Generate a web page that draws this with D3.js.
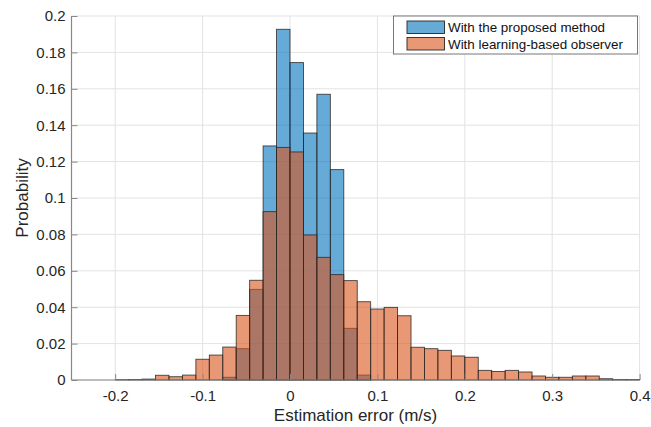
<!DOCTYPE html>
<html><head><meta charset="utf-8">
<script src="https://cdn.jsdelivr.net/npm/d3@7"></script>
<style>body{margin:0;background:#fff}svg{display:block}text{font-family:"Liberation Sans",Arial,Helvetica,sans-serif}</style>
</head><body><svg id="c" width="651" height="427"></svg>
<script>
// Histogram bins: edges at binStart + i*binWidth
const binStart = -0.2;
const binWidth = 0.2 / 13;
const proposedStartBin = 8;
const proposedValues = [0.0015, 0.0172, 0.0498, 0.1286, 0.1927, 0.1744, 0.1357, 0.157, 0.1156, 0.0284, 0.0027];
const learningStartBin = 0;
const learningValues = [0.0002, 0.0003, 0.0005, 0.0026, 0.0018, 0.0027, 0.0114, 0.0137, 0.0181, 0.0355,
  0.0548, 0.0925, 0.1278, 0.1253, 0.0797, 0.0674, 0.0579, 0.0546, 0.043, 0.039,
  0.0399, 0.0353, 0.018, 0.0172, 0.0163, 0.0132, 0.0125, 0.0053, 0.0047, 0.0053,
  0.0044, 0.0022, 0.0015, 0.0015, 0.0022, 0.0022, 0.0007, 0.0003, 0.0003];
const xTicks = [-0.2, -0.1, 0, 0.1, 0.2, 0.3, 0.4];
const yTicks = [0, 0.02, 0.04, 0.06, 0.08, 0.1, 0.12, 0.14, 0.16, 0.18, 0.2];
const seriesNames = ["With the proposed method", "With learning-based observer"];
const seriesColors = ["#0072BD", "#D95319"];
const xLabel = "Estimation error (m/s)";
const yLabel = "Probability";

const L = 71.5, R = 639.6, T = 16, B = 380;
const svg = d3.select("#c");
const x = d3.scaleLinear().domain([-0.25, 0.4]).range([L, R]);
const y = d3.scaleLinear().domain([0, 0.2]).range([B, T]);

// grid
const g = svg.append("g");
g.selectAll("line.gx").data(xTicks).join("line")
  .attr("x1", d => x(d)).attr("x2", d => x(d)).attr("y1", T).attr("y2", B)
  .attr("stroke", "#e3e3e3").attr("stroke-width", 1);
g.selectAll("line.gy").data(yTicks).join("line")
  .attr("y1", d => y(d)).attr("y2", d => y(d)).attr("x1", L).attr("x2", R)
  .attr("stroke", "#e3e3e3").attr("stroke-width", 1);

function bins(start, vals) {
  return vals.map((v, i) => ({x0: binStart + (start + i) * binWidth, x1: binStart + (start + i + 1) * binWidth, v}));
}
const series = [bins(proposedStartBin, proposedValues), bins(learningStartBin, learningValues)];
series.forEach((data, si) => {
  svg.append("g").selectAll("rect").data(data).join("rect")
    .attr("x", d => x(d.x0)).attr("width", d => x(d.x1) - x(d.x0))
    .attr("y", d => y(d.v)).attr("height", d => y(0) - y(d.v))
    .attr("fill", seriesColors[si]).attr("fill-opacity", 0.6)
    .attr("stroke", "#262626").attr("stroke-opacity", 0.85).attr("stroke-width", 0.9);
});

// axes
const fmt = d => String(+(+d).toFixed(2));
const ax = svg.append("g").attr("transform", `translate(0,${B})`)
  .call(d3.axisBottom(x).tickValues(xTicks).tickSize(-6).tickPadding(10).tickFormat(fmt));
const ay = svg.append("g").attr("transform", `translate(${L},0)`)
  .call(d3.axisLeft(y).tickValues(yTicks).tickSize(-6).tickPadding(6).tickFormat(fmt));
[ax, ay].forEach(a => {
  a.select(".domain").attr("stroke", "#888").attr("stroke-width", 1.2);
  a.selectAll(".tick line").attr("stroke", "#888");
  a.selectAll("text").attr("fill", "#262626").style("font-size", "15px").style("font-family", '"Liberation Sans",Arial,sans-serif');
});
ax.select(".domain").attr("d", `M${L},0H${R}`);
ay.select(".domain").attr("d", `M0,${B}V${T}`);

svg.append("text").attr("x", (L + R) / 2).attr("y", 421).attr("text-anchor", "middle")
  .attr("fill", "#262626").style("font-size", "17px").text(xLabel);
svg.append("text").attr("transform", `translate(28,${(T + B) / 2}) rotate(-90)`).attr("text-anchor", "middle")
  .attr("fill", "#262626").style("font-size", "17px").text(yLabel);

// legend
const lg = svg.append("g");
lg.append("rect").attr("x", 393.5).attr("y", 16).attr("width", 244).attr("height", 38)
  .attr("fill", "#fff").attr("stroke", "#777").attr("stroke-width", 1);
seriesNames.forEach((n, i) => {
  lg.append("rect").attr("x", 407).attr("y", 21 + i * 16.5).attr("width", 37.5).attr("height", 12.5)
    .attr("fill", seriesColors[i]).attr("fill-opacity", 0.6).attr("stroke", "#262626").attr("stroke-width", 0.9);
  lg.append("text").attr("x", 448).attr("y", 32 + i * 16.5).attr("fill", "#111")
    .style("font-size", "13.4px").text(n);
});
</script></body></html>
